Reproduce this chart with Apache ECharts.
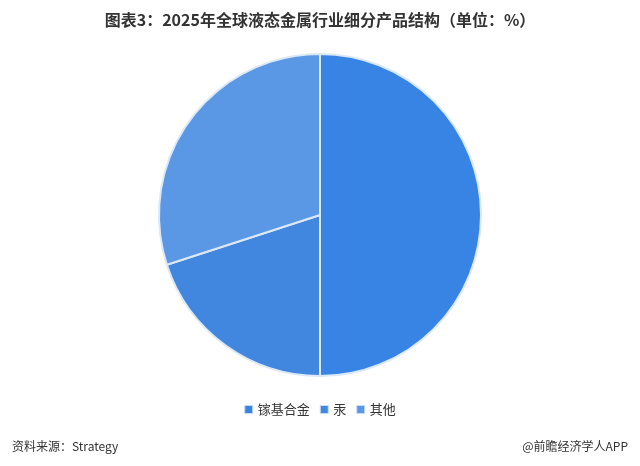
<!DOCTYPE html>
<html><head><meta charset="utf-8">
<script src="https://cdn.jsdelivr.net/npm/echarts@6/dist/echarts.min.js"></script>
<style>html,body{margin:0;padding:0;background:#fff}#c{width:640px;height:466px}</style>
</head><body><div id="c"></div>
<script>
const categories = ['镓基合金', '汞', '其他'];
const values = [50, 20, 30];
const colors = ['#3784E4', '#4187E0', '#5A98E6'];
const titleText = '图表3：2025年全球液态金属行业细分产品结构（单位：%）';
const sourceText = '资料来源：Strategy';
const brandText = '@前瞻经济学人APP';

const chart = echarts.init(document.getElementById('c'));
chart.setOption({
  backgroundColor: '#fff',
  animation: false,
  title: [
    { text: titleText, left: 'center', top: 7,
      textStyle: { fontFamily: 'Noto Sans CJK SC', fontWeight: 'bold', fontSize: 16, color: '#333' } },
    { text: sourceText, left: 7, top: 435,
      textStyle: { fontFamily: 'Noto Sans CJK SC', fontWeight: 'normal', fontSize: 12, color: '#333' } },
    { text: brandText, right: 7, top: 435,
      textStyle: { fontFamily: 'Noto Sans CJK SC', fontWeight: 'normal', fontSize: 12, color: '#333' } }
  ],
  legend: {
    data: categories, left: 'center', top: 398, itemWidth: 8, itemHeight: 8, itemGap: 10,
    icon: 'rect',
    itemStyle: { borderColor: '#c9dcf5', borderWidth: 1 },
    textStyle: { fontFamily: 'Noto Sans CJK SC', fontSize: 13, color: '#333' }
  },
  series: [{
    type: 'pie', center: [320, 215], radius: [0, 161], startAngle: 90, clockwise: true,
    label: { show: false }, labelLine: { show: false },
    itemStyle: { borderColor: '#dce8f6', borderWidth: 2 },
    data: categories.map((n, i) => ({ name: n, value: values[i], itemStyle: { color: colors[i] } }))
  }]
});
</script></body></html>
